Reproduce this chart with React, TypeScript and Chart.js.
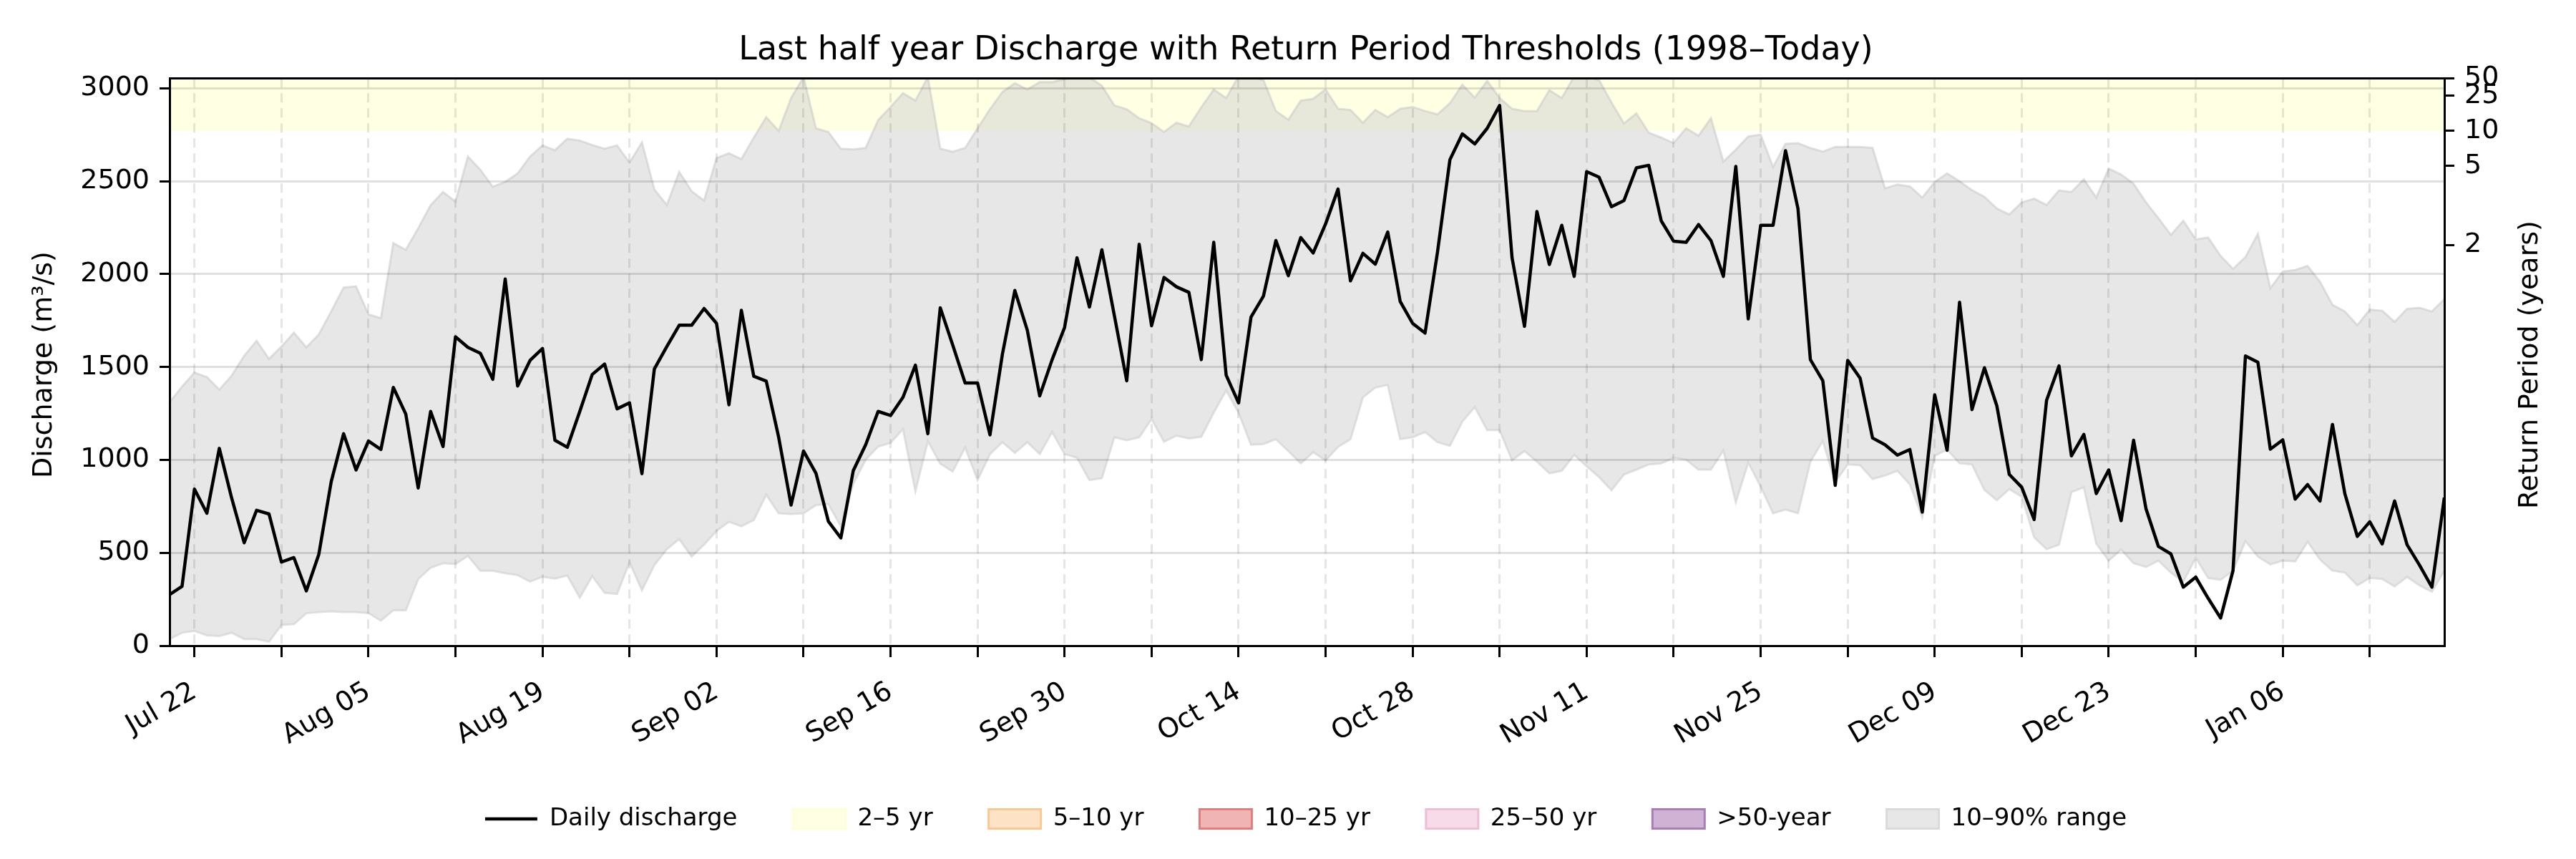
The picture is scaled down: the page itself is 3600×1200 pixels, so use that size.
import { useEffect, useRef } from "react"
import { Chart, registerables } from "chart.js"

Chart.register(...registerables)
Chart.defaults.font.family = "'DejaVu Sans', sans-serif"
Chart.defaults.color = "#000"

// Days since Jul 20 (index 0) up to Jan 19 (index 183)
const tickLabels = ["Jul 22", "Aug 05", "Aug 19", "Sep 02", "Sep 16", "Sep 30", "Oct 14", "Oct 28", "Nov 11", "Nov 25", "Dec 09", "Dec 23", "Jan 06"]
const firstTickDay = 2
const tickStepDays = 7
const lastDay = 183

const dailyDischarge = [
  275, 319, 843, 713, 1062, 793, 554, 729, 709, 450, 474, 295, 490, 882, 1141, 946, 1102, 1056, 1390, 1247,
  849, 1261, 1072, 1663, 1606, 1574, 1434, 1974, 1398, 1536, 1600, 1106, 1068, 1261, 1460, 1516, 1275, 1307, 926, 1490,
  1610, 1725, 1725, 1815, 1735, 1297, 1805, 1450, 1424, 1122, 757, 1048, 928, 669, 580, 942, 1082, 1261, 1239, 1337,
  1510, 1141, 1819, 1619, 1414, 1414, 1135, 1570, 1912, 1699, 1345, 1540, 1713, 2088, 1823, 2131, 1779, 1426, 2161, 1723,
  1982, 1932, 1902, 1540, 2171, 1456, 1307, 1769, 1882, 2181, 1992, 2197, 2114, 2271, 2458, 1964, 2112, 2054, 2227, 1853,
  1735, 1683, 2118, 2616, 2755, 2701, 2785, 2908, 2088, 1719, 2337, 2052, 2263, 1988, 2552, 2522, 2363, 2396, 2572, 2586,
  2287, 2177, 2171, 2267, 2181, 1988, 2580, 1759, 2263, 2263, 2665, 2353, 1540, 1426, 863, 1536, 1440, 1118, 1082, 1026,
  1056, 719, 1351, 1052, 1849, 1271, 1496, 1291, 922, 853, 679, 1321, 1506, 1022, 1137, 819, 946, 673, 1106, 737,
  534, 494, 315, 369, 255, 149, 404, 1560, 1526, 1058, 1108, 789, 867, 779, 1191, 817, 588, 667, 548, 779,
  544, 434, 315, 797,
]

const range90 = [
  1311, 1394, 1470, 1446, 1378, 1454, 1560, 1641, 1544, 1610, 1685, 1606, 1675, 1799, 1928, 1934, 1783, 1763, 2167, 2131,
  2247, 2371, 2442, 2390, 2633, 2562, 2470, 2496, 2542, 2633, 2693, 2667, 2729, 2719, 2695, 2675, 2693, 2600, 2709, 2456,
  2372, 2550, 2446, 2396, 2625, 2651, 2619, 2735, 2845, 2771, 2948, 3060, 2785, 2765, 2675, 2671, 2679, 2829, 2900, 2974,
  2934, 3060, 2675, 2659, 2679, 2785, 2888, 2980, 3028, 2994, 3034, 3034, 3050, 3060, 3060, 3014, 2908, 2888, 2839, 2813,
  2765, 2815, 2795, 2898, 2994, 2948, 3065, 3065, 3044, 2878, 2831, 2934, 2944, 2994, 2890, 2884, 2815, 2884, 2845, 2890,
  2900, 2878, 2860, 2920, 3020, 2950, 3040, 2948, 2890, 2878, 2878, 2990, 2948, 3065, 3065, 3044, 2924, 2811, 2865, 2761,
  2735, 2705, 2785, 2745, 2839, 2606, 2670, 2741, 2751, 2576, 2701, 2705, 2679, 2659, 2685, 2685, 2685, 2679, 2462, 2482,
  2472, 2412, 2496, 2542, 2500, 2452, 2416, 2353, 2321, 2386, 2406, 2372, 2450, 2442, 2510, 2412, 2568, 2536, 2486, 2386,
  2301, 2211, 2287, 2187, 2197, 2098, 2028, 2092, 2217, 1924, 2014, 2022, 2044, 1958, 1835, 1799, 1725, 1809, 1803, 1743,
  1813, 1819, 1799, 1865,
]

const range10 = [
  36, 70, 80, 56, 52, 70, 36, 36, 22, 112, 116, 175, 181, 185, 181, 181, 175, 135, 191, 191,
  359, 420, 444, 440, 484, 404, 404, 390, 380, 345, 371, 361, 378, 259, 375, 285, 279, 450, 299, 434,
  520, 574, 480, 544, 618, 667, 643, 677, 813, 713, 709, 713, 757, 763, 643, 872, 1002, 1072, 1092, 1167,
  833, 1102, 980, 938, 1068, 892, 1032, 1096, 1038, 1096, 1032, 1151, 1032, 1012, 892, 902, 1122, 1106, 1122, 1221,
  1098, 1131, 1116, 1125, 1255, 1375, 1255, 1082, 1086, 1112, 1048, 982, 1042, 998, 1070, 1112, 1337, 1390, 1404, 1112,
  1122, 1151, 1096, 1076, 1207, 1285, 1161, 1161, 998, 1048, 992, 928, 942, 1028, 966, 908, 837, 922, 948, 976,
  982, 1012, 1002, 948, 948, 1052, 773, 986, 857, 713, 733, 713, 992, 1102, 882, 976, 972, 898, 916, 942,
  869, 693, 1022, 1056, 982, 976, 839, 783, 843, 803, 584, 520, 544, 827, 853, 550, 458, 518, 444, 424,
  458, 394, 345, 474, 365, 355, 404, 564, 480, 438, 458, 454, 560, 464, 404, 394, 325, 365, 359, 319,
  371, 325, 291, 404,
]

const yMax = 3055
const yTicks = [0, 500, 1000, 1500, 2000, 2500, 3000]
const returnPeriods = [2, 5, 10, 25, 50]
const returnDischarge = [2156, 2583, 2772, 2960, 3055]
// shaded threshold band visible in the plot ("2–5 yr" colour)
const bandLow = 2772
const bandHigh = 3200

const legendNames = ["Daily discharge", "2–5 yr", "5–10 yr", "10–25 yr", "25–50 yr", ">50-year", "10–90% range"]
const legendFill = ["#000000", "#ffffe4", "#fde2c6", "#f0b4b4", "#f7dbe8", "#d0b2d4", "#e7e7e7"]
const legendEdge = ["#000000", "#ffffd6", "#f9c894", "#e07d7d", "#efbdd6", "#a97db5", "#dadada"]

const LEFT_TITLE = "Discharge (m³/s)"
const RIGHT_TITLE = "Return Period (years)"

const toPoints = (values: number[]) => values.map((y, x) => ({ x, y }))
const flat = (y: number) => [{ x: 0, y }, { x: lastDay, y }]

// axis titles drawn reading bottom-to-top on both sides
const axisTitles = {
  id: "axisTitles",
  afterDraw(chart: Chart) {
    const { ctx, chartArea } = chart
    const midY = (chartArea.top + chartArea.bottom) / 2 + 4
    const spots: [number, string][] = [
      [chartArea.left - 175, LEFT_TITLE],
      [chartArea.right + 120, RIGHT_TITLE],
    ]
    ctx.save()
    ctx.font = "38px 'DejaVu Sans', sans-serif"
    ctx.fillStyle = "#000"
    ctx.textAlign = "center"
    ctx.textBaseline = "middle"
    spots.forEach(([x, text]) => {
      ctx.save()
      ctx.translate(x, midY)
      ctx.rotate(-Math.PI / 2)
      ctx.fillText(text, 0, 0)
      ctx.restore()
    })
    ctx.restore()
  },
}

export default function App() {
  const canvasRef = useRef<HTMLCanvasElement>(null)
  const chartRef = useRef<Chart | null>(null)

  useEffect(() => {
    if (!canvasRef.current) return
    if (chartRef.current) chartRef.current.destroy()

    const weekTicks: number[] = []
    for (let d = firstTickDay; d <= lastDay; d += tickStepDays) weekTicks.push(d)

    chartRef.current = new Chart(canvasRef.current, {
      type: "line",
      data: {
        datasets: [
          {
            label: "Daily discharge",
            data: toPoints(dailyDischarge),
            borderColor: "#000",
            borderWidth: 4.5,
            borderJoinStyle: "round",
            pointRadius: 0,
            tension: 0,
            fill: false,
          },
          {
            label: "90%",
            data: toPoints(range90),
            borderColor: "rgba(200,200,200,0.55)",
            borderWidth: 3,
            backgroundColor: "rgba(211,211,211,0.55)",
            pointRadius: 0,
            fill: "+1",
          },
          {
            label: "10%",
            data: toPoints(range10),
            borderColor: "rgba(200,200,200,0.55)",
            borderWidth: 3,
            pointRadius: 0,
            fill: false,
          },
          {
            label: "band top",
            data: flat(bandHigh),
            borderWidth: 0,
            pointRadius: 0,
            backgroundColor: "rgba(255,255,200,0.5)",
            fill: "+1",
          },
          {
            label: "band bottom",
            data: flat(bandLow),
            borderWidth: 0,
            pointRadius: 0,
            fill: false,
          },
        ],
      },
      options: {
        animation: false,
        responsive: true,
        maintainAspectRatio: false,
        layout: { padding: { left: 50, right: 0, top: 0, bottom: 29 } },
        scales: {
          x: {
            type: "linear",
            position: "bottom",
            min: 0,
            max: lastDay,
            afterBuildTicks: (scale) => {
              scale.ticks = weekTicks.map((value) => ({ value }))
            },
            afterFit: (scale) => {
              scale.height = 147
            },
            ticks: {
              autoSkip: false,
              minRotation: 30,
              maxRotation: 30,
              padding: 26,
              font: { size: 38 },
              color: "#000",
              callback: (value) => {
                const k = ((value as number) - firstTickDay) / tickStepDays
                return k % 2 === 0 ? tickLabels[k / 2] ?? "" : ""
              },
            },
            grid: {
              color: "rgba(0,0,0,0.1)",
              lineWidth: 3,
              tickLength: 16,
              tickColor: "#000",
              tickWidth: 3,
              tickBorderDash: [],
              z: 1,
            },
            border: { color: "#000", width: 3, dash: [13, 8], z: 1 },
          },
          xTop: {
            type: "linear",
            position: "top",
            min: 0,
            max: lastDay,
            afterFit: (scale) => {
              scale.height = 0
            },
            ticks: { display: false },
            grid: { display: false, drawTicks: false },
            border: { color: "#000", width: 3, z: 1 },
          },
          y: {
            position: "left",
            min: 0,
            max: yMax,
            afterBuildTicks: (scale) => {
              scale.ticks = yTicks.map((value) => ({ value }))
            },
            afterFit: (scale) => {
              scale.width = 187
            },
            ticks: {
              autoSkip: false,
              padding: 14,
              font: { size: 38 },
              color: "#000",
              callback: (value) => String(value),
            },
            grid: {
              color: "rgba(0,0,0,0.12)",
              lineWidth: 3,
              tickLength: 14,
              tickColor: "#000",
              tickWidth: 3,
              z: 1,
            },
            border: { color: "#000", width: 3, z: 1 },
          },
          yRP: {
            position: "right",
            min: 0,
            max: yMax,
            afterBuildTicks: (scale) => {
              scale.ticks = returnDischarge.map((value) => ({ value }))
            },
            afterFit: (scale) => {
              scale.width = 184
            },
            ticks: {
              autoSkip: false,
              padding: 14,
              font: { size: 38 },
              color: "#000",
              callback: (value) => {
                const i = returnDischarge.indexOf(value as number)
                return i >= 0 ? String(returnPeriods[i]) : ""
              },
            },
            grid: {
              drawOnChartArea: false,
              tickLength: 14,
              tickColor: "#000",
              tickWidth: 3,
              z: 1,
            },
            border: { color: "#000", width: 3, z: 1 },
          },
        },
        plugins: {
          title: {
            display: true,
            text: "Last half year Discharge with Return Period Thresholds (1998–Today)",
            font: { size: 46, weight: "normal" },
            color: "#000",
            padding: { top: 43, bottom: 11 },
          },
          legend: {
            display: true,
            position: "bottom",
            labels: {
              usePointStyle: true,
              pointStyleWidth: 73,
              boxWidth: 73,
              boxHeight: 27,
              padding: 78,
              color: "#000",
              font: { size: 34 },
              generateLabels: () =>
                legendNames.map((text, i) => ({
                  text,
                  fillStyle: legendFill[i],
                  strokeStyle: legendEdge[i],
                  lineWidth: i === 0 ? 4.5 : 3,
                  pointStyle: i === 0 ? "line" : "rect",
                  hidden: false,
                  datasetIndex: i,
                })),
            },
          },
          tooltip: { enabled: false },
        },
      },
      plugins: [axisTitles],
    })

    return () => {
      if (chartRef.current) {
        chartRef.current.destroy()
        chartRef.current = null
      }
    }
  }, [])

  return (
    <div style={{ position: "absolute", left: 0, top: 0, width: 3600, height: 1200, background: "#fff" }}>
      <canvas ref={canvasRef}></canvas>
    </div>
  )
}
